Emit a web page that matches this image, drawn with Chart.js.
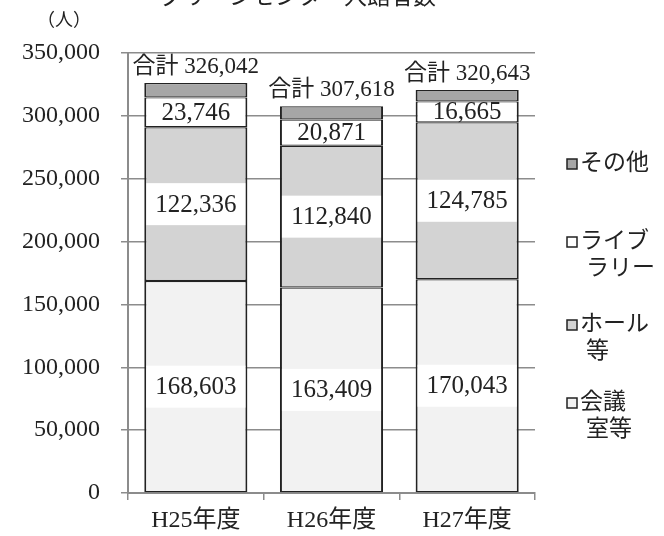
<!DOCTYPE html>
<html>
<head>
<meta charset="utf-8">
<script src="https://cdn.jsdelivr.net/npm/chart.js@4"></script>
<style>
  body { margin: 0; background: #fff; }
  #wrap { width: 664px; height: 536px; }
</style>
</head>
<body>
<div id="wrap"><canvas id="chart" width="664" height="536"></canvas></div>
<script>
// データ
const categories = ["H25年度", "H26年度", "H27年度"];
const kaigiValues = [168603, 163409, 170043];   // 会議室等
const hallValues = [122336, 112840, 124785];    // ホール等
const libraryValues = [23746, 20871, 16665];    // ライブラリー
const otherValues = [11357, 10498, 9150];       // その他
const totalValues = [326042, 307618, 320643];
const yTicks = [0, 50000, 100000, 150000, 200000, 250000, 300000, 350000];
const legendLines = [["その他"], ["ライブ", "ラリー"], ["ホール", "等"], ["会議", "室等"]];

const titleText = "グリーンセンター入館者数";
const unitText = "（人）";

const FONT = "'Liberation Serif', 'Noto Sans CJK JP', serif";
Chart.defaults.font.family = FONT;
Chart.defaults.color = "#222";

const fmt = (v) => v.toLocaleString("en-US");

// ラベル・凡例・タイトルを描くプラグイン
const labelPlugin = {
    id: "segmentLabels",
    afterDatasetsDraw(chart) {
        const ctx = chart.ctx;
        ctx.save();
        ctx.textAlign = "center";
        ctx.textBaseline = "middle";
        ctx.fillStyle = "#222";
        chart.data.datasets.forEach((ds, i) => {
            const meta = chart.getDatasetMeta(i);
            if (ds.showLabel === false) return;
            meta.data.forEach((bar, j) => {
                const p = bar.getProps(["x", "y", "base", "width"], true);
                const cy = (p.y + p.base) / 2;
                if (ds.labelBox) {
                    ctx.fillStyle = "#fff";
                    ctx.fillRect(p.x - p.width / 2 + 2, cy - 21, p.width - 4, 42);
                }
                ctx.fillStyle = "#222";
                ctx.font = "25px " + FONT;
                ctx.fillText(fmt(ds.data[j]), p.x, cy + 1);
            });
        });
        // 合計
        const top = chart.getDatasetMeta(chart.data.datasets.length - 1);
        ctx.font = "23px " + FONT;
        top.data.forEach((bar, j) => {
            ctx.fillText("合計 " + fmt(totalValues[j]), bar.x, bar.y - 16);
        });
        ctx.restore();
    },
    afterDraw(chart) {
        const ctx = chart.ctx;
        ctx.save();
        ctx.fillStyle = "#222";
        // タイトル (上が切れている)
        ctx.font = "23px " + FONT;
        ctx.textAlign = "center";
        ctx.textBaseline = "bottom";
        ctx.fillText(titleText, 298, 9);
        ctx.font = "18px " + FONT;
        ctx.textBaseline = "middle";
        ctx.fillText(unitText, 64, 21);

        // 凡例
        const colors = ["#a6a6a6", "#ffffff", "#d3d3d3", "#f2f2f2"];
        const ys = [164, 242, 325, 403];
        ctx.font = "23px " + FONT;
        ctx.textAlign = "left";
        legendLines.forEach((lines, k) => {
            const y = ys[k];
            ctx.fillStyle = colors[k];
            ctx.fillRect(567, y - 5, 10, 10);
            ctx.strokeStyle = "#222";
            ctx.lineWidth = 1.5;
            ctx.strokeRect(567, y - 5, 10, 10);
            ctx.fillStyle = "#222";
            lines.forEach((t, n) => {
                ctx.fillText(t, n === 0 ? 580 : 586, y + n * 27);
            });
        });
        ctx.restore();
    },
};

const backgroundColorPlugin = {
    id: "backgroundColor",
    beforeDraw(chart) {
        const ctx = chart.ctx;
        ctx.save();
        ctx.fillStyle = "white";
        ctx.fillRect(0, 0, chart.width, chart.height);
        ctx.restore();
    },
};

// 隣り合う区切り線が二重にならないよう上下は細く
const barStyle = {
    borderColor: "#222",
    borderWidth: { top: 1.2, bottom: 1.2, left: 2, right: 2 },
    borderSkipped: false,
    categoryPercentage: 1.0,
    barPercentage: 0.76,
};

new Chart(document.getElementById("chart"), {
    type: "bar",
    data: {
        labels: categories,
        datasets: [
            { label: "会議室等", data: kaigiValues, backgroundColor: "#f2f2f2", labelBox: true, ...barStyle },
            { label: "ホール等", data: hallValues, backgroundColor: "#d3d3d3", labelBox: true, ...barStyle },
            { label: "ライブラリー", data: libraryValues, backgroundColor: "#ffffff", labelBox: false, ...barStyle },
            { label: "その他", data: otherValues, backgroundColor: "#a6a6a6", showLabel: false, ...barStyle },
        ],
    },
    options: {
        responsive: false,
        animation: false,
        layout: { padding: { left: 0, top: 53, right: 129, bottom: 0 } },
        plugins: {
            legend: { display: false },
            tooltip: { enabled: false },
        },
        scales: {
            x: {
                stacked: true,
                grid: { drawOnChartArea: false, color: "#8c8c8c", lineWidth: 1.5, tickLength: 7, offset: true },
                border: { color: "#8c8c8c", width: 2 },
                ticks: { font: { size: 24 }, color: "#222", padding: 6 },
                afterFit(scale) { scale.height = 43; },
            },
            y: {
                stacked: true,
                min: 0,
                max: 350000,
                afterBuildTicks(scale) { scale.ticks = yTicks.map((v) => ({ value: v })); },
                grid: { color: "#8c8c8c", lineWidth: 1.5, tickLength: 7 },
                border: { color: "#8c8c8c", width: 2 },
                ticks: { font: { size: 24 }, color: "#222", padding: 21, callback: (v) => fmt(v) },
                afterFit(scale) { scale.width = 128; },
            },
        },
    },
    plugins: [backgroundColorPlugin, labelPlugin],
});
</script>
</body>
</html>
